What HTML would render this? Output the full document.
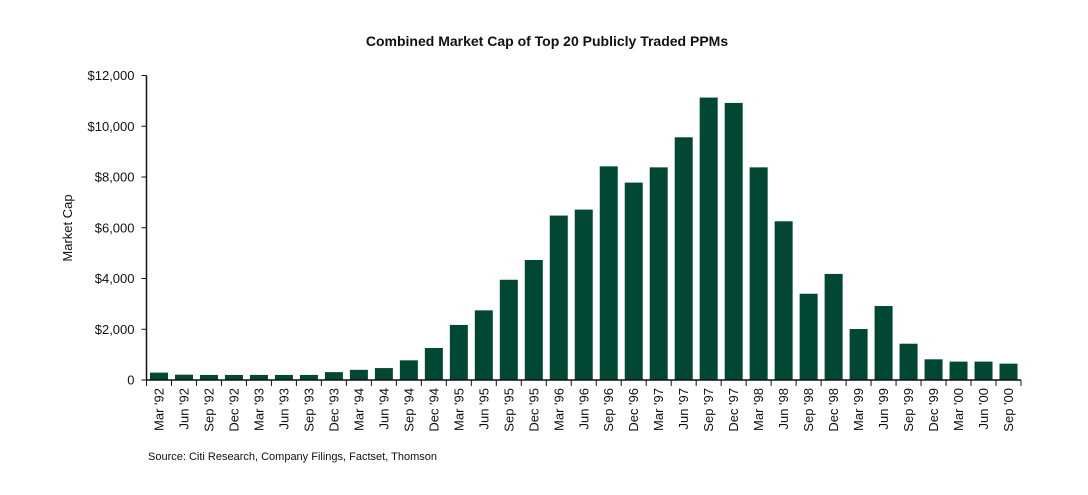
<!DOCTYPE html>
<html><head><meta charset="utf-8"><style>
body{margin:0;background:#fff;}
svg{display:block;font-family:"Liberation Sans",sans-serif;}
</style></head><body>
<svg id="chart" width="1088" height="495">
<text x="547" y="46" text-anchor="middle" font-size="14" font-weight="bold" fill="#111">Combined Market Cap of Top 20 Publicly Traded PPMs</text>
<text transform="translate(72,228) rotate(-90)" text-anchor="middle" font-size="13" fill="#111">Market Cap</text>
<text x="148" y="460" font-size="11" fill="#111">Source: Citi Research, Company Filings, Factset, Thomson</text>
<g id="plot"></g>
</svg>
<script>
const categories=["Mar '92","Jun '92","Sep '92","Dec '92","Mar '93","Jun '93","Sep '93","Dec '93","Mar '94","Jun '94","Sep '94","Dec '94","Mar '95","Jun '95","Sep '95","Dec '95","Mar '96","Jun '96","Sep '96","Dec '96","Mar '97","Jun '97","Sep '97","Dec '97","Mar '98","Jun '98","Sep '98","Dec '98","Mar '99","Jun '99","Sep '99","Dec '99","Mar '00","Jun '00","Sep '00"];
const values=[290,210,200,200,200,200,200,310,400,470,775,1260,2170,2745,3950,4730,6480,6715,8420,7780,8380,9565,11130,10920,8380,6255,3400,4180,2010,2915,1430,815,725,725,645];
const yTicks=[0,2000,4000,6000,8000,10000,12000];
const yTickLabels=["0","$2,000","$4,000","$6,000","$8,000","$10,000","$12,000"];
const NS="http://www.w3.org/2000/svg";
const g=document.getElementById('plot');
const x0=146.5,x1=1021,y0=380,yTop=75.5,yMax=12000;
const band=(x1-x0)/categories.length;
const y=v=>y0-(v/yMax)*(y0-yTop);
const xs=i=>x0+i*band;
function mk(t,a){const e=document.createElementNS(NS,t);for(const k in a)e.setAttribute(k,a[k]);g.appendChild(e);return e;}
values.forEach((v,i)=>{
  const r=mk('rect',{x:xs(i)+3.5,y:y(v),width:18,height:y0-y(v),fill:'#004833'});
  
  
});
const ax=mk('line',{x1:x0,y1:yTop,x2:x0,y2:y0,stroke:'#111','stroke-width':1.5});


const bx=mk('line',{x1:x0,y1:y0,x2:x1,y2:y0,stroke:'#111','stroke-width':1.5});


yTicks.forEach((t,i)=>{
  mk('line',{x1:x0-5,y1:y(t),x2:x0,y2:y(t),stroke:'#111','stroke-width':1});
  const tx=mk('text',{x:x0-12,y:y(t)+4.5,'text-anchor':'end','font-size':13,fill:'#111'});
  tx.textContent=yTickLabels[i];
  
  
});
for(let i=0;i<=categories.length;i++){mk('line',{x1:xs(i),y1:y0,x2:xs(i),y2:y0+6,stroke:'#111','stroke-width':1});}
categories.forEach((c,i)=>{
  const cx=xs(i)+band/2+4.5;
  const tx=mk('text',{x:0,y:0,transform:`translate(${cx},${y0+8}) rotate(-90)`,'text-anchor':'end','font-size':13,fill:'#111'});
  tx.textContent=c;
  
  
});
</script>
</body></html>
